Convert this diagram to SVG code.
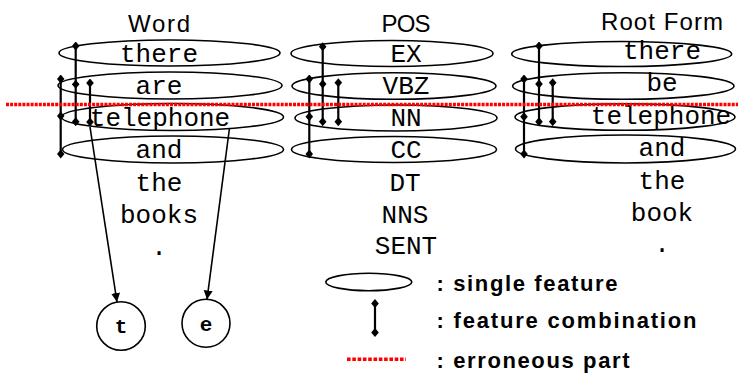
<svg xmlns="http://www.w3.org/2000/svg" width="738" height="374" viewBox="0 0 738 374">
  <defs>
    <marker id="dia" viewBox="-4 -4.5 8 9" markerWidth="8" markerHeight="9" refX="0" refY="0" markerUnits="userSpaceOnUse" orient="0">
      <path d="M0,-4.5 L3.8,0 L0,4.5 L-3.8,0 Z" fill="#000"/>
    </marker>
    <marker id="arr" viewBox="0 0 10 10" markerWidth="9" markerHeight="10" refX="10" refY="5" markerUnits="userSpaceOnUse" orient="auto">
      <path d="M0,0 L10,5 L0,10 Z" fill="#000"/>
    </marker>
  </defs>
  <style>
    .title { font-family: "Liberation Sans", Arial, sans-serif; font-size: 24px; fill: #000; text-anchor: middle; }
    .mono { font-family: "Liberation Mono", "Courier New", monospace; font-size: 26px; fill: #000; text-anchor: middle; }
    .cell { fill: none; stroke: #000; stroke-width: 1.6; }
    .combo { fill: none; stroke: #000; stroke-width: 2.2; marker-start: url(#dia); marker-mid: url(#dia); marker-end: url(#dia); }
    .err { fill: none; stroke: #ff0000; stroke-width: 3.6; stroke-dasharray: 3 1.1; }
    .link { fill: none; stroke: #000; stroke-width: 1.6; marker-end: url(#arr); }
    .circ { fill: #fff; stroke: #000; stroke-width: 1.6; }
    .clab { font-family: "Liberation Mono", "Courier New", monospace; font-size: 21px; font-weight: bold; fill: #000; text-anchor: middle; }
    .legend { font-family: "Liberation Sans", Arial, sans-serif; font-size: 22px; font-weight: bold; fill: #000; }
  </style>

  <rect width="738" height="374" fill="#fff"/>

  <!-- column titles -->
  <text class="title" x="159" y="32" textLength="62">Word</text>
  <text class="title" x="406" y="31.5" textLength="49">POS</text>
  <text class="title" x="662" y="29.5" textLength="122">Root Form</text>

  <!-- Word column -->
  <g id="word-there"><ellipse class="cell" cx="169.5" cy="53" rx="110.5" ry="13"/><text class="mono" x="159" y="61.5">there</text></g>
  <g id="word-are"><ellipse class="cell" cx="170" cy="85.5" rx="112" ry="13.5"/><text class="mono" x="159" y="93.5">are</text></g>
  <g id="word-telephone"><ellipse class="cell" cx="172.5" cy="117" rx="111" ry="13.5"/><text class="mono" x="160" y="126">telephone</text></g>
  <g id="word-and"><ellipse class="cell" cx="173" cy="149.5" rx="110.5" ry="13.5"/><text class="mono" x="159" y="157.5">and</text></g>
  <g id="word-the"><text class="mono" x="159" y="191">the</text></g>
  <g id="word-books"><text class="mono" x="159" y="223">books</text></g>
  <g id="word-period"><text class="mono" x="159" y="255">.</text></g>

  <!-- POS column -->
  <g id="pos-ex"><ellipse class="cell" cx="392" cy="53.5" rx="101" ry="13"/><text class="mono" x="406" y="61.5">EX</text></g>
  <g id="pos-vbz"><ellipse class="cell" cx="394" cy="86" rx="102" ry="13.3"/><text class="mono" x="406" y="94">VBZ</text></g>
  <g id="pos-nn"><ellipse class="cell" cx="396" cy="118" rx="101" ry="13"/><text class="mono" x="406" y="126">NN</text></g>
  <g id="pos-cc"><ellipse class="cell" cx="394" cy="149.5" rx="102.5" ry="13"/><text class="mono" x="406" y="157.5">CC</text></g>
  <g id="pos-dt"><text class="mono" x="405" y="191">DT</text></g>
  <g id="pos-nns"><text class="mono" x="405" y="223">NNS</text></g>
  <g id="pos-sent"><text class="mono" x="406" y="254">SENT</text></g>

  <!-- Root Form column -->
  <g id="root-there"><ellipse class="cell" cx="621.7" cy="54" rx="110" ry="12.5"/><text class="mono" x="662" y="59">there</text></g>
  <g id="root-be"><ellipse class="cell" cx="623.3" cy="86" rx="110.7" ry="13.3"/><text class="mono" x="662" y="91">be</text></g>
  <g id="root-telephone"><ellipse class="cell" cx="625" cy="117" rx="110" ry="13.3"/><text class="mono" x="661" y="123.5">telephone</text></g>
  <g id="root-and"><ellipse class="cell" cx="625.5" cy="149" rx="110" ry="14"/><text class="mono" x="662" y="156">and</text></g>
  <g id="root-the"><text class="mono" x="662" y="189">the</text></g>
  <g id="root-book"><text class="mono" x="662" y="221">book</text></g>
  <g id="root-period"><text class="mono" x="662" y="252">.</text></g>

  <!-- character nodes -->
  <g id="char-t"><circle class="circ" cx="121" cy="326" r="24.3"/><text class="clab" x="121" y="332.5">t</text></g>
  <g id="char-e"><circle class="circ" cx="206" cy="323.3" r="24"/><text class="clab" x="206" y="330.5">e</text></g>

  <!-- connectors: feature combinations, character links, error line -->
  <g id="connectors">
    <polyline class="combo" points="75.7,46 75.7,84.3 75.7,121.7"/>
    <polyline class="combo" points="90,83 90,122"/>
    <polyline class="combo" points="60.7,79 60.7,116 60.7,154"/>

    <polyline class="combo" points="322.7,46.7 322.7,84 322.7,121.7"/>
    <polyline class="combo" points="338.3,82.7 338.3,121.7"/>
    <polyline class="combo" points="309.3,79 309.3,116.7 309.3,154"/>

    <polyline class="combo" points="539,46 539,84 539,121.7"/>
    <polyline class="combo" points="552.7,82.7 552.7,121.7"/>
    <polyline class="combo" points="524,79 524,116.7 524,154"/>

    <line class="link" x1="90" y1="127" x2="117" y2="302"/>
    <line class="link" x1="229.5" y1="128" x2="207" y2="299.5"/>

    <line class="err" x1="6" y1="104.5" x2="738" y2="104.5"/>
  </g>

  <!-- legend -->
  <g id="legend">
    <ellipse class="cell" cx="368.8" cy="282" rx="43" ry="8.7"/>
    <text class="legend" x="436.5" y="290.5" textLength="181">: single feature</text>
    <polyline class="combo" points="375,303.5 375,332.5"/>
    <text class="legend" x="436.5" y="327.5" textLength="260">: feature combination</text>
    <line class="err" x1="347" y1="359.3" x2="406" y2="359.3" style="stroke-dasharray: 3.6 1.7"/>
    <text class="legend" x="436.5" y="367.5" textLength="193">: erroneous part</text>
  </g>
</svg>
